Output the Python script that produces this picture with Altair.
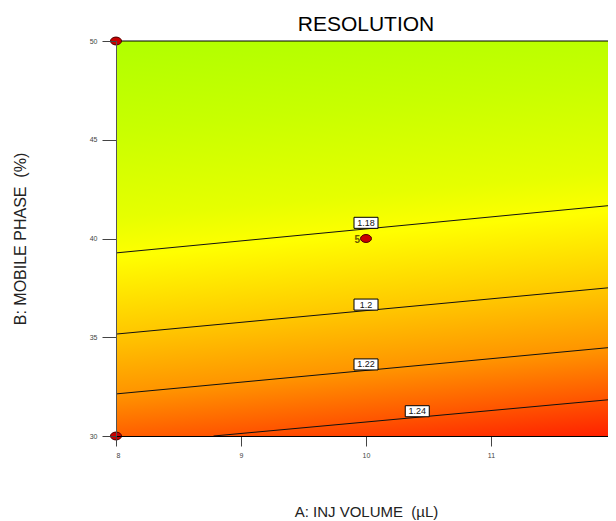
import altair as alt
import pandas as pd

# Axis extents and ticks
A_range = [8, 12]
B_range = [30, 50]
A_ticks = [8, 9, 10, 11, 12]
B_ticks = [30, 35, 40, 45, 50]

# Contour lines
levels = ["1.18", "1.2", "1.22", "1.24"]
line_A_start = [8, 8, 8, 8.78]
line_B_start = [39.27, 35.16, 32.13, 30.0]
line_A_end = [12, 12, 12, 12]
line_B_end = [41.70, 37.54, 34.51, 31.87]
label_A = [10, 10, 10, 10.41]
label_B = [40.49, 36.35, 33.32, 30.95]

# Design points
design_A = [8, 12, 8, 12, 10]
design_B = [50, 50, 30, 30, 40]
design_label = ["", "", "", "", "5"]

bg_df = pd.DataFrame({"A": [A_range[0]], "A2": [A_range[1]], "B": [B_range[0]], "B2": [B_range[1]]})
lines_df = pd.DataFrame({"level": levels, "A": line_A_start, "B": line_B_start,
                         "A2": line_A_end, "B2": line_B_end})
labels_df = pd.DataFrame({"level": levels, "A": label_A, "B": label_B})
pts_df = pd.DataFrame({"A": design_A, "B": design_B, "lab": design_label})

font = "Liberation Sans"

xscale = alt.Scale(domain=A_range, nice=False, zero=False, range=[0, 500])
yscale = alt.Scale(domain=B_range, nice=False, zero=False)

xaxis = alt.Axis(values=A_ticks, format="d", title="A: INJ VOLUME \u00a0(µL)", tickSize=10,
                 tickColor="#444", labelFontSize=7, labelColor="#444", labelPadding=5,
                 labelFont=font, domainColor="#000", titleFont=font, titleFontSize=15,
                 titleFontWeight="normal", titleColor="#222", titleX=250, titleY=75,
                 titleBaseline="middle", titleAlign="center", grid=False, zindex=1)
yaxis = alt.Axis(values=B_ticks, format="d", title="B: MOBILE PHASE \u00a0(%)", tickSize=14,
                 tickColor="#444", labelFontSize=7, labelColor="#444", labelPadding=5,
                 labelFont=font, domainColor="#555", titleFont=font, titleFontSize=16,
                 titleFontWeight="normal", titleColor="#222", titleX=-96, titleY=197.5,
                 titleBaseline="middle", titleAlign="center", titleAngle=-90, grid=False,
                 zindex=1)

grad = alt.Gradient(
    gradient="linear",
    x1=0, y1=0, x2=0.131, y2=1.103,
    stops=[
        alt.GradientStop(offset=0.0, color="#b0ff00"),
        alt.GradientStop(offset=0.2, color="#c8ff00"),
        alt.GradientStop(offset=0.40, color="#e6ff00"),
        alt.GradientStop(offset=0.49, color="#ffff00"),
        alt.GradientStop(offset=0.66, color="#ffc800"),
        alt.GradientStop(offset=0.80, color="#ff9400"),
        alt.GradientStop(offset=0.90, color="#ff5c00"),
        alt.GradientStop(offset=1.0, color="#ff2000"),
    ],
)

bg = alt.Chart(bg_df).mark_rect(fill=grad, stroke=None).encode(
    x=alt.X("A:Q", scale=xscale, axis=xaxis),
    x2="A2:Q",
    y=alt.Y("B:Q", scale=yscale, axis=yaxis),
    y2="B2:Q",
)

topline = alt.Chart(bg_df).mark_rule(color="#000", strokeWidth=1).encode(
    x=alt.X("A:Q", scale=xscale), x2="A2:Q", y=alt.Y("B2:Q", scale=yscale)
)

contours = alt.Chart(lines_df).mark_rule(color="#111", strokeWidth=1).encode(
    x=alt.X("A:Q", scale=xscale), x2="A2:Q",
    y=alt.Y("B:Q", scale=yscale), y2="B2:Q",
)

box_shape = "M-1,-0.46H1V0.46H-1Z"
boxes = alt.Chart(labels_df).mark_point(
    shape=box_shape, size=576, filled=True, fill="white", stroke="#000",
    strokeWidth=1, opacity=1, yOffset=-6
).encode(x=alt.X("A:Q", scale=xscale), y=alt.Y("B:Q", scale=yscale))

box_text = alt.Chart(labels_df).mark_text(
    font=font, fontSize=9, color="#111", yOffset=-6, baseline="middle", align="center"
).encode(x=alt.X("A:Q", scale=xscale), y=alt.Y("B:Q", scale=yscale), text="level:N")

ell = "M-1,0A1,0.72,0,1,1,1,0A1,0.72,0,1,1,-1,0Z"
points = alt.Chart(pts_df).mark_point(
    shape=ell, size=121, filled=True, fill="#c80000", stroke="#500000",
    strokeWidth=1, opacity=1
).encode(x=alt.X("A:Q", scale=xscale), y=alt.Y("B:Q", scale=yscale))

pt_text = alt.Chart(pts_df).mark_text(
    font=font, fontSize=10, fontWeight="bold", color="#6b5a00", align="right",
    baseline="middle", dx=-6, dy=1
).encode(x=alt.X("A:Q", scale=xscale), y=alt.Y("B:Q", scale=yscale), text="lab:N")

chart = alt.layer(bg, topline, contours, boxes, box_text, points, pt_text).properties(
    width=492, height=395,
    title=alt.Title("RESOLUTION", font=font, fontSize=21, fontWeight="normal",
                    color="#000", anchor="middle", offset=0, dx=4),
    autosize=alt.AutoSizeParams(type="none"),
    padding={"left": 108, "top": 33, "right": 0, "bottom": 85},
).configure_view(stroke=None).configure(background="white")

chart.save("out.html", embed_options={"renderer": "svg", "actions": False})
